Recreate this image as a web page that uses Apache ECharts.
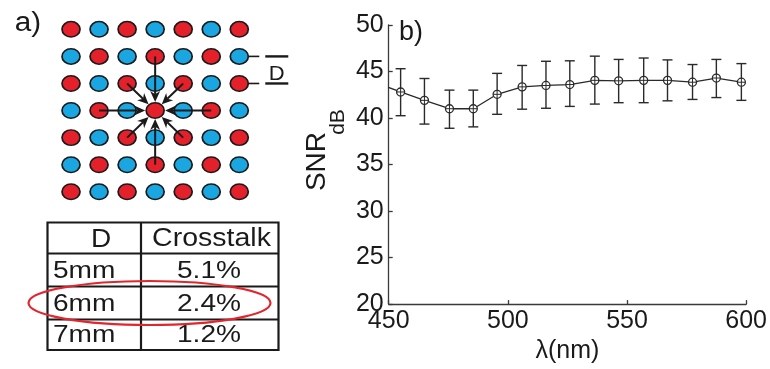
<!DOCTYPE html>
<html><head><meta charset="utf-8">
<script src="https://cdn.jsdelivr.net/npm/echarts@6/dist/echarts.min.js"></script>
<style>html,body{margin:0;padding:0;background:#fff}#c{width:770px;height:369px}</style>
</head><body><div id="c"></div>
<script>
// ---- panel b data ----
const wavelengths = [455, 465, 475.5, 485.5, 495.5, 506, 516, 526, 536.5, 546.5, 557, 567, 577.5, 587.5, 598];
const snrMean  = [42.8, 41.9, 41.0, 41.0, 42.55, 43.35, 43.5, 43.6, 44.05, 44.0, 44.05, 44.05, 43.85, 44.3, 43.85];
const snrUpper = [45.3, 44.25, 43.0, 43.0, 44.8, 45.65, 46.1, 46.15, 46.65, 46.3, 46.45, 46.25, 45.75, 46.3, 45.85];
const snrLower = [40.25, 39.35, 38.9, 39.05, 40.4, 40.95, 41.05, 41.25, 41.5, 41.65, 41.65, 41.85, 42.0, 42.2, 41.9];
const leadInPoint = [445, 43.75];           // previous sample, outside the visible range
const yTickLabels = ['20', '25', '30', '35', '40', '45', '50'];
const xTickLabels = ['450', '500', '550', '600'];

// ---- panel a data ----
const dotRows = ['RBRBRBR', 'BRBRBRB', 'RBRBRBR', 'BRBRBRB', 'RBRBRBR', 'BRBRBRB', 'RBRBRBR'];
const arrowSources = [[3, 1], [3, 5], [1, 3], [5, 3], [2, 2], [4, 2], [2, 4], [4, 4]];
const arrowTarget = [3, 3];
const markedDots = [[6, 1], [6, 2]];
const tableHeader = ['D', 'Crosstalk'];
const spacings = ['5mm', '6mm', '7mm'];
const crosstalk = ['5.1%', '2.4%', '1.2%'];
const highlightedRow = 1;

const FONT = '"Liberation Sans", Arial, Helvetica, sans-serif';
const RED = '#e4202b', BLUE = '#1aa7e1', INK = '#1a1a1a', AX = '#3a3a3a';

const dotData = [];
dotRows.forEach((row, r) => row.split('').forEach((c, col) => dotData.push([col, r, c])));
const arrowData = arrowSources.map(s => [s[0], s[1], arrowTarget[0], arrowTarget[1]]);
const errData = wavelengths.map((w, i) => [w, snrLower[i], snrUpper[i], snrMean[i]]);
const lineData = [leadInPoint].concat(wavelengths.map((w, i) => [w, snrMean[i]]));

// table layout
const T = {left: 47.5, right: 278.5, mid: 141, rows: [222.5, 253.5, 286.5, 319.5, 350]};
const tableEls = [];
tableEls.push({type: 'rect', shape: {x: T.left, y: T.rows[0], width: T.right - T.left, height: T.rows[4] - T.rows[0]},
  style: {fill: 'none', stroke: INK, lineWidth: 2.2}});
for (let i = 1; i < 4; i++) tableEls.push({type: 'line', shape: {x1: T.left, y1: T.rows[i], x2: T.right, y2: T.rows[i]}, style: {stroke: INK, lineWidth: 2.2}});
tableEls.push({type: 'line', shape: {x1: T.mid, y1: T.rows[0], x2: T.mid, y2: T.rows[4]}, style: {stroke: INK, lineWidth: 2.2}});
function txt(s, x, y, size, align, sx) {
  return {type: 'text', x: x, y: y, scaleX: sx || 1, style: {text: s, x: 0, y: 0, font: size + 'px ' + FONT, fill: INK, textAlign: align, textVerticalAlign: 'middle'}};
}
tableEls.push(txt(tableHeader[0], 101, 240, 25, 'center', 1.12));
tableEls.push(txt(tableHeader[1], 211.5, 239.5, 25, 'center', 1.14));
spacings.forEach((s, i) => {
  const cy = (T.rows[i + 1] + T.rows[i + 2]) / 2 + 1;
  tableEls.push(txt(s, 53, cy, 24, 'left', 1.17));
  tableEls.push(txt(crosstalk[i], 209, cy, 24, 'center', 1.17));
});
const hy = (T.rows[highlightedRow + 1] + T.rows[highlightedRow + 2]) / 2;
tableEls.push({type: 'ellipse', shape: {cx: 149.5, cy: hy, rx: 121, ry: 22}, style: {fill: 'none', stroke: '#e3262d', lineWidth: 2.2}, z: 10});

const chart = echarts.init(document.getElementById('c'), null, {renderer: 'canvas'});
chart.setOption({
  animation: false,
  backgroundColor: '#fff',
  grid: [
    {left: 388.7, top: 25, width: 359.3, height: 282},
    {left: 57, top: 15.8, width: 196.3, height: 189.5}
  ],
  xAxis: [
    {gridIndex: 0, type: 'value', min: 450, max: 600, interval: 50,
      axisLine: {lineStyle: {color: AX, width: 1.3}},
      axisTick: {inside: true, length: 4, lineStyle: {color: AX, width: 1.3}},
      splitLine: {show: false},
      axisLabel: {margin: 5, color: '#1a1a1a', fontSize: 25, fontFamily: FONT,
        formatter: v => xTickLabels[Math.round((v - 450) / 50)]},
      name: 'λ(nm)', nameLocation: 'middle', nameGap: 30,
      nameTextStyle: {fontSize: 25, fontFamily: FONT, color: '#1a1a1a'}},
    {gridIndex: 1, type: 'value', min: -0.5, max: 6.5, show: false}
  ],
  yAxis: [
    {gridIndex: 0, type: 'value', min: 20, max: 50, interval: 5,
      axisLine: {show: true, lineStyle: {color: AX, width: 1.3}},
      axisTick: {show: true, inside: true, length: 4, lineStyle: {color: AX, width: 1.3}},
      splitLine: {show: false},
      axisLabel: {margin: 5, color: '#1a1a1a', fontSize: 25, fontFamily: FONT,
        formatter: v => yTickLabels[Math.round((v - 20) / 5)]}},
    {gridIndex: 1, type: 'value', min: -0.5, max: 6.5, inverse: true, show: false}
  ],
  series: [
    {type: 'line', xAxisIndex: 0, yAxisIndex: 0, data: lineData, symbol: 'none', clip: true,
      lineStyle: {color: '#2a2a2a', width: 1.3}, z: 2},
    {type: 'custom', xAxisIndex: 0, yAxisIndex: 0, data: errData, z: 3,
      renderItem: (params, api) => {
        const lo = api.coord([api.value(0), api.value(1)]);
        const hi = api.coord([api.value(0), api.value(2)]);
        const m = api.coord([api.value(0), api.value(3)]);
        const x = lo[0], cap = 5, r = 4;
        const st = {stroke: '#2a2a2a', lineWidth: 1.4};
        return {type: 'group', children: [
          {type: 'line', shape: {x1: x, y1: lo[1], x2: x, y2: hi[1]}, style: st},
          {type: 'line', shape: {x1: x - cap, y1: lo[1], x2: x + cap, y2: lo[1]}, style: st},
          {type: 'line', shape: {x1: x - cap, y1: hi[1], x2: x + cap, y2: hi[1]}, style: st},
          {type: 'circle', shape: {cx: m[0], cy: m[1], r: r}, style: {fill: '#fff', stroke: '#2a2a2a', lineWidth: 1.3}},
          {type: 'line', shape: {x1: m[0] - r, y1: m[1], x2: m[0] + r, y2: m[1]}, style: {stroke: '#2a2a2a', lineWidth: 1}},
          {type: 'line', shape: {x1: m[0], y1: m[1] - r, x2: m[0], y2: m[1] + r}, style: {stroke: '#2a2a2a', lineWidth: 1}}
        ]};
      }},
    {type: 'scatter', xAxisIndex: 1, yAxisIndex: 1, data: dotData, symbol: 'circle', symbolSize: [18, 15.5], z: 2,
      itemStyle: {color: p => p.data[2] === 'R' ? RED : BLUE, borderColor: INK, borderWidth: 1.6, opacity: 1}},
    {type: 'custom', xAxisIndex: 1, yAxisIndex: 1, data: arrowData, z: 4,
      renderItem: (params, api) => {
        const s = api.coord([api.value(0), api.value(1)]);
        const t = api.coord([api.value(2), api.value(3)]);
        const dx = t[0] - s[0], dy = t[1] - s[1], L = Math.hypot(dx, dy);
        const ux = dx / L, uy = dy / L, px = -uy, py = ux;
        const rr = 1 / Math.sqrt((ux / 10) ** 2 + (uy / 8.5) ** 2);
        const tip = [t[0] - ux * rr, t[1] - uy * rr];
        const head = 11, half = 5;
        const notch = [tip[0] - ux * head * 0.7, tip[1] - uy * head * 0.7];
        const w1 = [tip[0] - ux * head + px * half, tip[1] - uy * head + py * half];
        const w2 = [tip[0] - ux * head - px * half, tip[1] - uy * head - py * half];
        return {type: 'group', children: [
          {type: 'line', shape: {x1: s[0], y1: s[1], x2: notch[0], y2: notch[1]}, style: {stroke: INK, lineWidth: 2}},
          {type: 'polygon', shape: {points: [tip, w1, notch, w2]}, style: {fill: INK}}
        ]};
      }},
    {type: 'custom', xAxisIndex: 1, yAxisIndex: 1, data: markedDots, z: 4,
      renderItem: (params, api) => {
        const p = api.coord([api.value(0), api.value(1)]);
        const ch = [
          {type: 'line', shape: {x1: p[0] + 9, y1: p[1], x2: p[0] + 20, y2: p[1]}, style: {stroke: INK, lineWidth: 1.6}},
          {type: 'line', shape: {x1: p[0] + 26, y1: p[1], x2: p[0] + 49, y2: p[1]}, style: {stroke: INK, lineWidth: 2.4}}
        ];
        if (params.dataIndex === 1) {
          ch.push({type: 'text', x: p[0] + 37.5, y: p[1] - 9, scaleX: 1.1,
            style: {text: 'D', x: 0, y: 0, font: '20px ' + FONT, fill: INK, textAlign: 'center', textVerticalAlign: 'middle'}});
        }
        return {type: 'group', children: ch};
      }}
  ],
  graphic: [
    {type: 'group', children: tableEls},
    {type: 'text', x: 28, y: 24, scaleX: 1.1, style: {text: 'a)', x: 0, y: 0, font: '27px ' + FONT, fill: INK, textAlign: 'center', textVerticalAlign: 'middle'}},
    {type: 'text', x: 411, y: 33, style: {text: 'b)', x: 0, y: 0, font: '27px ' + FONT, fill: INK, textAlign: 'center', textVerticalAlign: 'middle'}},
    {type: 'text', x: 317, y: 161.5, rotation: Math.PI / 2, style: {text: 'SNR', x: 0, y: 0, font: '28px ' + FONT, fill: INK, textAlign: 'center', textVerticalAlign: 'middle'}},
    {type: 'text', x: 338.5, y: 122, rotation: Math.PI / 2, style: {text: 'dB', x: 0, y: 0, font: '21px ' + FONT, fill: INK, textAlign: 'center', textVerticalAlign: 'middle'}}
  ]
});
</script>
</body></html>
